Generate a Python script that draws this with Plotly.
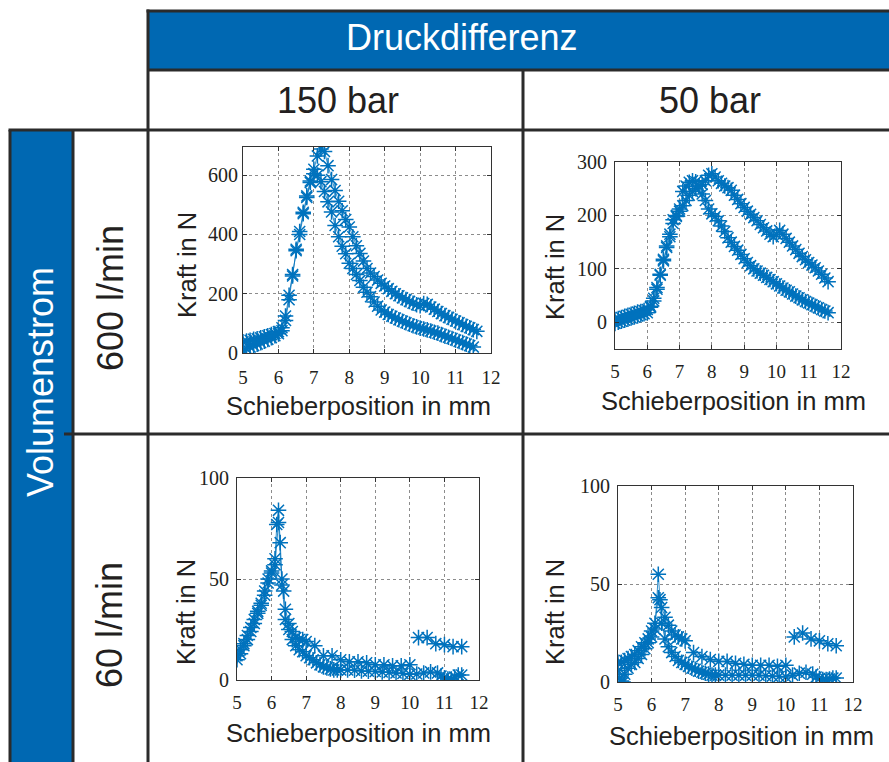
import plotly.graph_objects as go

W, H = 889, 762
BLUE = "#0068b2"
MARK = "#0072BD"
DARK = "#2b2b2b"
TXT = "#231f20"

# ---------------- data ----------------
# 150 bar, 600 l/min
tl_xa = [5.0,5.1,5.2,5.3,5.4,5.5,5.6,5.7,5.8,5.9,6.0,6.1,6.2,6.3,6.4,6.5,6.6,6.7,6.8,6.9,7.0,7.1,7.2,7.3,7.4,7.5,7.6,7.7,7.8,7.9,8.0,8.1,8.2,8.3,8.4,8.5,8.6,8.7,8.8,8.9,9.0,9.1,9.2,9.3,9.4,9.5,9.6,9.7,9.8,9.9,10.0,10.1,10.2,10.3,10.4,10.5,10.6,10.7,10.8,10.9,11.0,11.1,11.2,11.3,11.4,11.5,11.6]
tl_ya = [38,40,43,46,48,51,55,58,62,66,72,85,125,195,265,350,410,475,530,580,620,665,688,680,632,585,548,512,480,450,425,392,362,336,310,285,270,258,246,235,226,217,208,200,193,186,180,174,168,163,160,167,164,155,148,140,133,126,120,114,108,102,96,90,85,79,73]
tl_xb = [5.0,5.1,5.2,5.3,5.4,5.5,5.6,5.7,5.8,5.9,6.0,6.1,6.2,6.3,6.4,6.5,6.6,6.7,6.8,6.9,7.0,7.1,7.2,7.3,7.4,7.5,7.6,7.7,7.8,7.9,8.0,8.1,8.2,8.3,8.4,8.5,8.6,8.7,8.8,8.9,9.0,9.1,9.2,9.3,9.4,9.5,9.6,9.7,9.8,9.9,10.0,10.1,10.2,10.3,10.4,10.5,10.6,10.7,10.8,10.9,11.0,11.1,11.2,11.3,11.4,11.5]
tl_yb = [8,14,20,25,30,35,40,46,52,58,65,75,110,180,260,345,400,470,525,575,605,600,578,545,510,476,430,392,360,335,303,285,265,245,222,205,190,172,158,145,138,130,124,118,112,107,102,97,92,88,84,81,78,74,70,67,62,57,53,49,44,39,35,30,25,20]

# 50 bar, 600 l/min
tr_xa = [5.0,5.1,5.2,5.3,5.4,5.5,5.6,5.7,5.8,5.9,6.0,6.1,6.2,6.3,6.4,6.5,6.6,6.7,6.8,6.9,7.0,7.1,7.2,7.3,7.4,7.5,7.6,7.7,7.8,7.9,8.0,8.1,8.2,8.3,8.4,8.5,8.6,8.7,8.8,8.9,9.0,9.1,9.2,9.3,9.4,9.5,9.6,9.7,9.8,9.9,10.0,10.1,10.2,10.3,10.4,10.5,10.6,10.7,10.8,10.9,11.0,11.1,11.2,11.3,11.4,11.5,11.6]
tr_ya = [5,7,9,11,13,15,17,19,20,22,24,30,45,65,90,115,140,160,185,198,208,218,228,238,245,250,255,258,265,275,278,272,265,260,255,252,247,238,230,222,215,208,202,196,190,183,177,171,165,160,165,172,165,157,150,143,136,129,123,117,112,107,102,96,90,83,76]
tr_xb = [5.0,5.1,5.2,5.3,5.4,5.5,5.6,5.7,5.8,5.9,6.0,6.1,6.2,6.3,6.4,6.5,6.6,6.7,6.8,6.9,7.0,7.1,7.2,7.3,7.4,7.5,7.6,7.7,7.8,7.9,8.0,8.1,8.2,8.3,8.4,8.5,8.6,8.7,8.8,8.9,9.0,9.1,9.2,9.3,9.4,9.5,9.6,9.7,9.8,9.9,10.0,10.1,10.2,10.3,10.4,10.5,10.6,10.7,10.8,10.9,11.0,11.1,11.2,11.3,11.4,11.5,11.6]
tr_yb = [-2,0,2,4,6,8,10,12,14,16,18,28,40,62,88,118,143,165,192,200,212,245,255,262,265,263,255,240,228,212,203,198,190,180,170,158,150,142,135,127,119,112,106,100,96,92,88,84,80,76,72,68,64,60,57,53,49,46,42,39,36,33,30,27,24,21,18]

# 150 bar, 60 l/min
bl_xa = [5.0,5.1,5.2,5.3,5.4,5.5,5.6,5.7,5.8,5.9,6.0,6.1,6.15,6.2,6.25,6.3,6.35,6.4,6.5,6.6,6.7,6.8,6.9,7.0,7.25,7.5,7.75,8.0,8.25,8.5,8.75,9.0,9.25,9.5,9.75,10.0]
bl_ya = [12,15,18,22,26,30,34,38,44,50,54,60,77,84,68,50,44,35,28,24,21,20,20,19,17,12,12,10,9,9,8.5,7.5,7.5,7,7,7.5]
bl_xc = [10.25,10.5,10.75,11.0,11.25,11.5]
bl_yc = [21,21,18,17.5,16.5,16.5]
bl_xb = [5.0,5.1,5.2,5.3,5.4,5.5,5.6,5.7,5.8,5.9,6.0,6.1,6.2,6.3,6.4,6.5,6.6,6.7,6.8,6.9,7.0,7.1,7.2,7.3,7.4,7.5,7.6,7.7,7.8,7.9,8.0,8.2,8.4,8.6,8.8,9.0,9.2,9.4,9.6,9.8,10.0,10.2,10.4,10.6,10.8,10.9,11.0,11.1,11.2,11.3,11.4,11.5]
bl_yb = [10,13,17,20,24,28,33,37,42,48,53,57,78,47,30,25,20,17,15,14,12,11,10,8.5,7.5,6.5,6,5.5,5,5,5,5,4.8,4.5,4.3,4.2,4,3.8,3.5,3.2,2.8,3,3.5,4,3.5,2,1,0.5,0.5,1.5,2.5,2.5]

# 50 bar, 60 l/min
br_xa = [5.0,5.1,5.2,5.3,5.4,5.5,5.6,5.7,5.8,5.9,6.0,6.1,6.2,6.25,6.3,6.4,6.5,6.6,6.7,6.8,6.9,7.0,7.25,7.5,7.75,8.0,8.25,8.5,8.75,9.0,9.25,9.5,9.75,10.0]
br_ya = [10,10,11,12,13,14,16,18,20,22,26,30,43,42,38,33,29,26,24,23,22,21,15,13,11.5,10.5,10.5,9.5,9,8.5,8.5,8.5,8,8.5]
br_xc = [10.25,10.5,10.75,11.0,11.25,11.5]
br_yc = [23,25,22,21,19.5,18.5]
br_xb = [5.0,5.05,5.1,5.15,5.2,5.3,5.4,5.5,5.6,5.7,5.8,5.9,6.0,6.1,6.2,6.3,6.4,6.5,6.6,6.7,6.8,6.9,7.0,7.1,7.2,7.3,7.4,7.5,7.6,7.7,7.8,7.9,8.0,8.2,8.4,8.6,8.8,9.0,9.2,9.4,9.6,9.8,10.0,10.2,10.4,10.6,10.8,10.9,11.0,11.1,11.2,11.3,11.4,11.5]
br_yb = [6,2,0.5,0,4,7,9,10,12,14,17,20,23,27,55,30,22,18,15,13,11,10,9,8,7,6.5,5.5,5,4.5,4,3.5,3.5,3.5,3.5,3.5,3.5,3.5,3.5,3.5,3.2,3,2.8,2.6,3.5,4.5,5,4,2.5,1.7,1.3,1.2,1.5,2,2]

x_ticks = [5, 6, 7, 8, 9, 10, 11, 12]
col_labels = ["150 bar", "50 bar"]
row_labels = ["600 l/min", "60 l/min"]
header_label = "Druckdifferenz"
side_label = "Volumenstrom"
x_title = "Schieberposition in mm"
y_title = "Kraft in N"

panels = [
    # (series list, px-domain, py-domain, yrange, yticks, y standoff, x standoff)
    ([(tl_xa, tl_ya), (tl_xb, tl_yb)], (243, 491), (147, 353), [0, 695], [0, 200, 400, 600], 0, 7),
    ([(tr_xa, tr_ya), (tr_xb, tr_yb)], (615, 841), (162, 349), [-50, 300], [0, 100, 200, 300], 3, 5),
    ([(bl_xa, bl_ya), (bl_xc, bl_yc), (bl_xb, bl_yb)], (237, 479), (478, 680), [0, 100], [0, 50, 100], 3, 5),
    ([(br_xa, br_ya), (br_xc, br_yc), (br_xb, br_yb)], (618, 853), (486, 682), [0, 100], [0, 50, 100], 3, 5),
]

def px(x):
    return x / W

def py(y):
    return 1 - y / H

fig = go.Figure()
layout = {}
SERIF = "Liberation Serif, Times New Roman, serif"
for i, (series, dx, dy, yr, yt, ystand, xstand) in enumerate(panels):
    n = "" if i == 0 else str(i + 1)
    for xs, ys in series:
        fig.add_trace(go.Scatter(
            x=xs, y=ys, mode="lines+markers",
            line=dict(color=MARK, width=0.8),
            marker=dict(symbol="asterisk-open", size=13,
                        line=dict(color=MARK, width=1.5)),
            xaxis="x" + n, yaxis="y" + n, showlegend=False,
            hoverinfo="x+y"))
    common = dict(showline=True, linecolor="#333333", linewidth=1,
                  mirror="ticks", ticks="inside", ticklen=4,
                  tickcolor="#333333", showgrid=True,
                  gridcolor="#8c8c8c", griddash="dot", gridwidth=1,
                  zeroline=False, automargin=False)
    layout["xaxis" + n] = dict(common, domain=[px(dx[0]), px(dx[1])],
                               range=[5, 12], tickvals=x_ticks,
                               anchor="y" + n, ticklabelstandoff=xstand,
                               tickfont=dict(family=SERIF, size=19, color=TXT))
    layout["yaxis" + n] = dict(common, domain=[py(dy[1]), py(dy[0])],
                               range=yr, tickvals=yt, anchor="x" + n,
                               ticklabelstandoff=ystand,
                               tickfont=dict(family=SERIF, size=20, color=TXT))

fig.update_layout(**layout)

shapes = []
def fillrect(x0, y0, x1, y1, fill):
    shapes.append(dict(type="rect", xref="paper", yref="paper",
                       x0=px(x0), x1=px(x1), y0=py(y1), y1=py(y0),
                       fillcolor=fill, line=dict(width=0), layer="below"))

def line(x0, y0, x1, y1, lw=3):
    shapes.append(dict(type="line", xref="paper", yref="paper",
                       x0=px(x0), x1=px(x1), y0=py(y0), y1=py(y1),
                       line=dict(color=DARK, width=lw), layer="above"))

fillrect(148, 11, 889, 70, BLUE)
fillrect(10, 130, 73, 762, BLUE)
line(146.5, 11, 889, 11)
line(148, 70, 889, 70)
line(8.5, 130, 889, 130)
line(148, 9.5, 148, 762)
line(523, 70, 523, 762)
line(64, 434, 889, 434)
line(73, 130, 73, 762)
line(10, 130, 10, 762)

ann = []
def text(t, x, y, size, color, angle=0, family="Liberation Sans, Arial, sans-serif"):
    ann.append(dict(text=t, xref="paper", yref="paper", x=px(x), y=py(y),
                    xanchor="center", yanchor="middle", showarrow=False,
                    textangle=angle, font=dict(family=family, size=size, color=color)))

text(header_label, 461, 38, 36, "white")
text(col_labels[0], 338, 100, 36, TXT)
text(col_labels[1], 710, 100, 36, TXT)
text(side_label, 40, 382, 36, "white", angle=-90)
text(row_labels[0], 110, 298, 36, TXT, angle=-90)
text(row_labels[1], 109, 625, 36, TXT, angle=-90)

ytitle_pos = [(187, 265), (555, 267), (186, 612), (555, 612)]
xtitle_pos = [(358, 406), (733, 401), (358, 733), (741, 736)]
for (yx, yy), (xx, xy) in zip(ytitle_pos, xtitle_pos):
    text(y_title, yx, yy, 25.5, TXT, angle=-90)
    text(x_title, xx, xy, 25.5, TXT)

fig.update_layout(width=W, height=H,
                  margin=dict(l=0, r=0, t=0, b=0, pad=0, autoexpand=False),
                  paper_bgcolor="white", plot_bgcolor="white",
                  shapes=shapes, annotations=ann, showlegend=False)

fig.write_html("out.html")
